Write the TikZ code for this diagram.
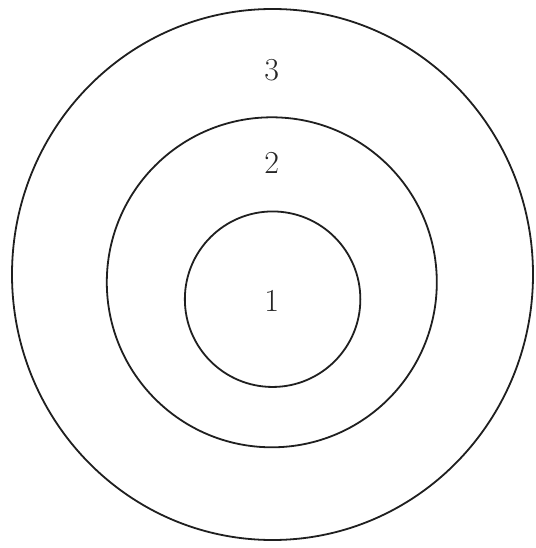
\documentclass[tikz,border=0pt]{standalone}
\usetikzlibrary{shapes.geometric}
\begin{document}
\begin{tikzpicture}[x=1pt,y=-1pt,
  ring/.style={draw=black!88, line width=1.8pt, fill=none, inner sep=0pt, outer sep=0pt},
  num/.style={text=black!85, font=\fontsize{32}{38}\selectfont, inner sep=0pt}]
\useasboundingbox[fill=white] (0,0) rectangle (535,548);
\node[ring, ellipse, minimum width=521pt, minimum height=531pt] (outer) at (272.5,274.5) {};
\node[ring, circle, minimum size=330pt] (middle) at (271.8,282.3) {};
\node[ring, circle, minimum size=175.5pt] (inner) at (272.6,299.2) {};
\node[num] (l3) at (271.7,70) {3};
\node[num] (l2) at (271.7,163) {2};
\node[num] (l1) at (271.7,301) {1};
\end{tikzpicture}
\end{document}
